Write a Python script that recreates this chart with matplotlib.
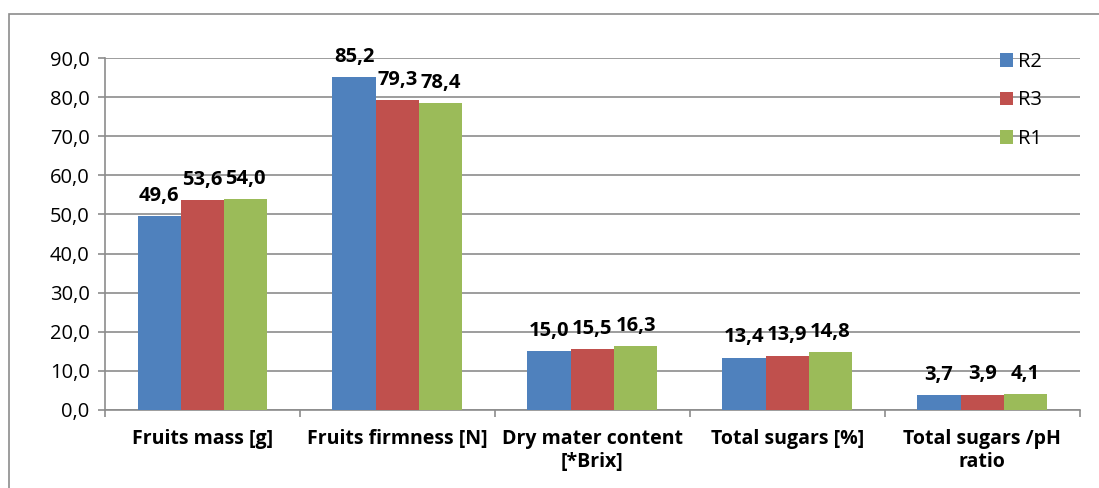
import numpy as np
import matplotlib
matplotlib.use("Agg")
import matplotlib.pyplot as plt
from matplotlib.patches import Rectangle

plt.rcParams['font.family'] = ['Open Sans', 'DejaVu Sans']

# dane
categories = ["Fruits mass [g]", "Fruits firmness [N]", "Dry mater content\n[*Brix]",
              "Total sugars [%]", "Total sugars /pH\nratio"]
series_names = ["R2", "R3", "R1"]
r2 = [49.6, 85.2, 15.0, 13.4, 3.7]
r3 = [53.6, 79.3, 15.5, 13.9, 3.9]
r1 = [54.0, 78.4, 16.3, 14.8, 4.1]
colors = ["#4F81BD", "#C0504D", "#9BBB59"]

fig = plt.figure(figsize=(10.99, 4.88), dpi=100)
ax = fig.add_axes([0.0955, 0.16, 0.887, 0.721])

# ramka wokol calego wykresu
fig.patches.append(Rectangle((0.0082, -0.1), 1.2, 1.071, transform=fig.transFigure,
                             fill=False, edgecolor="#8C8C8C", linewidth=1.2))

x = np.arange(len(categories))
w = 0.222
for i, (vals, name) in enumerate(zip([r2, r3, r1], series_names)):
    pos = x + (i - 1) * w
    ax.bar(pos, vals, width=w, color=colors[i], label=name, zorder=3)
    for px, v in zip(pos, vals):
        ax.annotate(f"{v:.1f}".replace(".", ","), (px, v), xytext=(0, 11),
                    textcoords="offset points", ha="center", va="baseline",
                    fontsize=14.5, fontweight="bold", zorder=4)

ax.set_ylim(0, 90)
ax.set_xlim(-0.5, len(categories) - 0.5)
ax.set_yticks(np.arange(0, 91, 10))
ax.set_yticklabels([f"{v:.1f}".replace(".", ",") for v in np.arange(0, 91, 10)], fontsize=14.5)
ax.yaxis.grid(True, color="#8C8C8C", linewidth=1.2, zorder=0)

ax.set_xticks(np.arange(-0.5, len(categories), 1.0))
ax.set_xticklabels([])
ax.set_xticks(x, minor=True)
ax.set_xticklabels(categories, minor=True, fontsize=14, fontweight="bold")
ax.tick_params(axis="x", which="minor", length=0, pad=14)
ax.tick_params(axis="x", which="major", length=5, color="#8C8C8C", width=1.2)
ax.tick_params(axis="y", length=5, color="#8C8C8C", width=1.2, pad=6)

for s in ["top", "right"]:
    ax.spines[s].set_visible(False)
for s in ["left", "bottom"]:
    ax.spines[s].set_color("#8C8C8C")
    ax.spines[s].set_linewidth(1.2)

leg = ax.legend(loc="upper right", bbox_to_anchor=(0.98, 1.069), frameon=False,
                fontsize=14.5, handlelength=0.65, handleheight=0.65, handletextpad=0.25,
                labelspacing=0.92)

fig.savefig("out.png", dpi=100)
